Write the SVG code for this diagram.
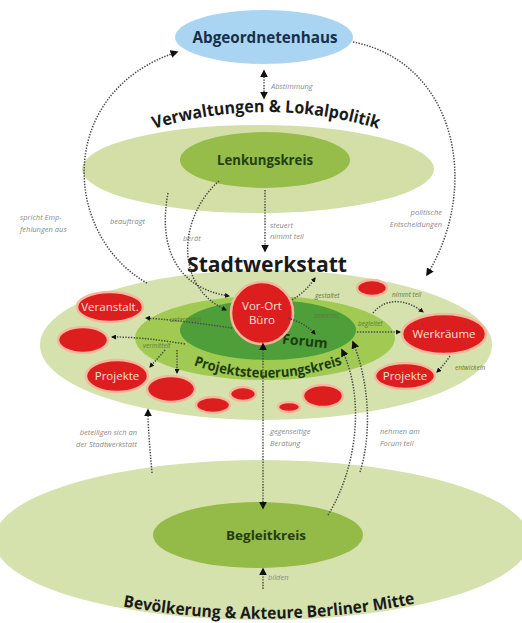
<svg xmlns="http://www.w3.org/2000/svg" width="522" height="623" viewBox="0 0 522 623">
<defs>
<style>
.lbl{font-family:"Open Sans","Liberation Sans",sans-serif;font-size:7.5px;font-style:italic;fill:#8a8a8a}
.ilbl{font-family:"Open Sans","Liberation Sans",sans-serif;font-size:6.5px;font-style:italic;fill:#5e7a3a}
.conn path,.conn line{fill:none;stroke:#4a4a4a;stroke-width:1.5;stroke-dasharray:1.4 1.4}
.big{font-family:"Open Sans","Liberation Sans",sans-serif;font-weight:bold;fill:#1a1a1a}
.node{font-family:"Open Sans","Liberation Sans",sans-serif;font-weight:bold;text-anchor:middle}
.red{fill:#dc1e1e;stroke:#f6b79d;stroke-width:2.5}
.redt{font-family:"Open Sans","Liberation Sans",sans-serif;font-size:11.5px;fill:#fbe0d8;text-anchor:middle}
</style>
<marker id="ah" viewBox="0 0 10 10" refX="8" refY="5" markerWidth="5" markerHeight="5" orient="auto-start-reverse" markerUnits="userSpaceOnUse">
<path d="M0,0 L10,5 L0,10 z" fill="#111"/>
</marker>
<marker id="ah2" viewBox="0 0 10 10" refX="8" refY="5" markerWidth="8" markerHeight="8" orient="auto-start-reverse" markerUnits="userSpaceOnUse">
<path d="M0,0 L10,5 L0,10 z" fill="#111"/>
</marker>
<path id="arcTop" d="M150 130 Q266 94 382 130"/>
<path id="arcProj" d="M190 364 Q266 392 346 363"/>
<path id="arcBot" d="M120 606 Q268 633 418 603"/>
</defs>
<rect width="522" height="623" fill="#ffffff"/>

<g id="bevoelkerung">
<ellipse cx="262" cy="540" rx="268" ry="80" fill="#d6e2ae"/>
<text class="big" font-size="16.5"><textPath href="#arcBot" startOffset="50%" text-anchor="middle" textLength="294" lengthAdjust="spacingAndGlyphs">Bevölkerung &amp; Akteure Berliner Mitte</textPath></text>
</g>

<g id="begleitkreis">
<ellipse cx="258" cy="535" rx="105" ry="33" fill="#94ba48"/>
<text class="node" x="266" y="540" font-size="13" fill="#233d10" textLength="80" lengthAdjust="spacingAndGlyphs">Begleitkreis</text>
</g>

<g id="verwaltungen">
<ellipse cx="258" cy="169" rx="176" ry="44" fill="#d3dfa6"/>
<text class="big" font-size="17"><textPath href="#arcTop" startOffset="50%" text-anchor="middle" textLength="228" lengthAdjust="spacingAndGlyphs">Verwaltungen &amp; Lokalpolitik</textPath></text>
</g>

<g id="lenkungskreis">
<ellipse cx="265" cy="160" rx="85" ry="28" fill="#96bc4a"/>
<text class="node" x="265" y="165" font-size="13.5" fill="#23400f" textLength="96" lengthAdjust="spacingAndGlyphs">Lenkungskreis</text>
</g>

<g id="abgeordnetenhaus">
<ellipse cx="264" cy="37" rx="89" ry="27" fill="#a9d5f2"/>
<text class="node" x="265" y="43" font-size="16" fill="#17304a" textLength="145" lengthAdjust="spacingAndGlyphs">Abgeordnetenhaus</text>
</g>

<g id="stadtwerkstatt">
<ellipse cx="266" cy="345" rx="226" ry="75" fill="#d6e2ae"/>
<text class="big" x="267" y="272" font-size="22" text-anchor="middle" textLength="160" lengthAdjust="spacingAndGlyphs">Stadtwerkstatt</text>
</g>

<g id="projektsteuerungskreis">
<ellipse cx="265" cy="338" rx="130" ry="42" fill="#a0ca52"/>
</g>

<g id="forum">
<ellipse cx="268" cy="330" rx="88" ry="30" fill="#4e9f3a"/>
<text class="node" x="305" y="346" font-size="14" fill="#1d3b10" transform="rotate(6 305 342)">Forum</text>
</g>

<g id="projektsteuerungskreis-label">
<text class="big" font-size="14" fill="#1d3b10"><textPath href="#arcProj" startOffset="50%" text-anchor="middle" textLength="152" lengthAdjust="spacingAndGlyphs" fill="#1d3b10">Projektsteuerungskreis</textPath></text>
</g>

<g id="vor-ort-buero">
<circle cx="262" cy="313" r="31" class="red"/>
<text class="redt" x="262" y="310">Vor-Ort</text>
<text class="redt" x="262" y="324">Büro</text>
</g>

<g id="veranstalt">
<ellipse cx="110" cy="307" rx="33" ry="15" class="red"/>
<text class="redt" x="110" y="311">Veranstalt.</text>
</g>
<g id="red-a"><ellipse cx="83" cy="340" rx="25" ry="13" class="red"/></g>
<g id="projekte-links">
<ellipse cx="117" cy="376" rx="31" ry="16" class="red"/>
<text class="redt" x="117" y="380">Projekte</text>
</g>
<g id="red-b"><ellipse cx="171" cy="389" rx="24" ry="13" class="red"/></g>
<g id="red-c"><ellipse cx="213" cy="405" rx="17" ry="8" class="red"/></g>
<g id="red-d"><ellipse cx="243" cy="394" rx="13" ry="7" class="red"/></g>
<g id="red-e"><ellipse cx="289" cy="407" rx="11" ry="5" class="red"/></g>
<g id="red-f"><ellipse cx="323" cy="396" rx="20" ry="11" class="red"/></g>
<g id="red-g"><ellipse cx="372" cy="288" rx="15" ry="8" class="red"/></g>
<g id="werkraeume">
<ellipse cx="444" cy="334" rx="42" ry="20" class="red"/>
<text class="redt" x="444" y="338">Werkräume</text>
</g>
<g id="projekte-rechts">
<ellipse cx="405" cy="376" rx="30" ry="13" class="red"/>
<text class="redt" x="405" y="380">Projekte</text>
</g>

<g class="conn" id="connectors">
<line x1="264" y1="71" x2="264" y2="98" marker-start="url(#ah2)" marker-end="url(#ah2)"/>
<path d="M147 283 C62 235 55 92 177 52" marker-end="url(#ah2)"/>
<path d="M353 42 C455 62 482 185 427 275" marker-end="url(#ah2)"/>
<path d="M168 193 C158 245 175 288 229 296" marker-end="url(#ah)"/>
<path d="M219 181 C180 215 172 285 226 310" marker-end="url(#ah)"/>
<line x1="265" y1="190" x2="265" y2="251" marker-end="url(#ah2)"/>
<path d="M292 300 C303 293 309 287 315 278" marker-end="url(#ah)"/>
<path d="M288 318 C300 322 308 326 315 334" marker-end="url(#ah)"/>
<path d="M373 313 C385 298 405 298 423 312" marker-end="url(#ah)"/>
<line x1="357" y1="332" x2="400" y2="332" marker-end="url(#ah)"/>
<path d="M450 356 C446 362 442 367 437 372" marker-end="url(#ah)"/>
<path d="M232 328 C205 324 175 320 146 318" marker-end="url(#ah)"/>
<path d="M185 344 C160 340 138 337 112 337" marker-end="url(#ah)"/>
<path d="M165 350 C160 356 155 361 150 367" marker-end="url(#ah)"/>
<line x1="177" y1="350" x2="177" y2="373" marker-end="url(#ah)"/>
<line x1="263" y1="344" x2="263" y2="508" marker-start="url(#ah2)" marker-end="url(#ah2)"/>
<path d="M328 515 C356 470 366 400 342 350" marker-end="url(#ah2)"/>
<path d="M360 472 C370 440 372 390 353 342" marker-end="url(#ah2)"/>
<path d="M152 473 C150 450 148 430 148 410" marker-end="url(#ah2)"/>
<line x1="263" y1="589" x2="263" y2="569" marker-end="url(#ah2)"/>
</g>

<g id="labels">
<text class="lbl" x="271" y="89">Abstimmung</text>
<text class="lbl" x="20" y="220">spricht Emp-</text>
<text class="lbl" x="20" y="232">fehlungen aus</text>
<text class="lbl" x="110" y="224">beauftragt</text>
<text class="lbl" x="183" y="241">berät</text>
<text class="lbl" x="270" y="228">steuert</text>
<text class="lbl" x="270" y="239">nimmt teil</text>
<text class="lbl" x="442" y="215" text-anchor="end">politische</text>
<text class="lbl" x="442" y="227" text-anchor="end">Entscheidungen</text>
<text class="ilbl" x="315" y="298">gestaltet</text>
<text class="ilbl" x="314" y="318">bewertet</text>
<text class="ilbl" x="392" y="297">nimmt teil</text>
<text class="ilbl" x="358" y="326">begleitet</text>
<text class="ilbl" x="455" y="370">entwickeln</text>
<text class="ilbl" x="170" y="322">unterstützt</text>
<text class="ilbl" x="143" y="348">vermittelt</text>
<text class="lbl" x="270" y="434">gegenseitige</text>
<text class="lbl" x="270" y="446">Beratung</text>
<text class="lbl" x="380" y="434">nehmen am</text>
<text class="lbl" x="380" y="446">Forum teil</text>
<text class="lbl" x="137" y="435" text-anchor="end">beteiligen sich an</text>
<text class="lbl" x="137" y="447" text-anchor="end">der Stadtwerkstatt</text>
<text class="lbl" x="268" y="580" font-size="7">bilden</text>
</g>
</svg>
